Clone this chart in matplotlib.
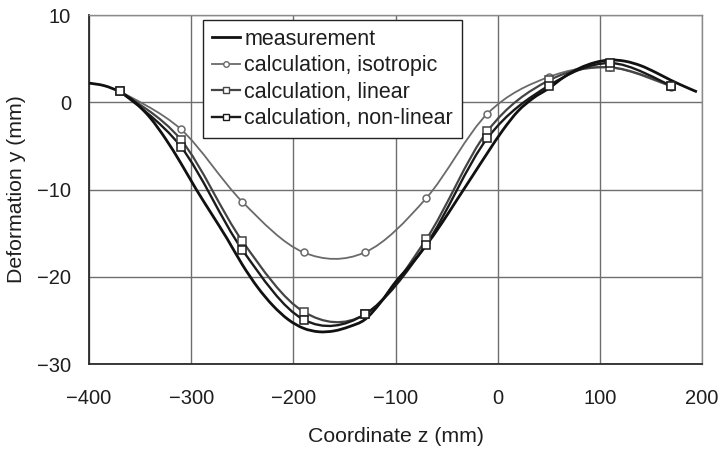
import numpy as np
import matplotlib
matplotlib.use("Agg")
import matplotlib.pyplot as plt
from matplotlib.path import Path
from matplotlib.patches import PathPatch
from matplotlib.lines import Line2D

plt.rcParams['font.family'] = ['Liberation Sans', 'DejaVu Sans']

# ---- data ----
z_meas = [-400, -385, -370, -355, -340, -325, -310, -295, -280, -265, -250, -235, -220,
          -205, -190, -175, -160, -145, -130, -115, -100, -85, -70, -55, -40, -25, -10,
          5, 20, 35, 50, 65, 80, 95, 110, 125, 140, 155, 170, 185, 195]
y_meas = [2.2, 1.9, 1.2, 0.0, -1.8, -4.2, -7.0, -10.0, -12.8, -15.6, -18.6, -21.2, -23.3,
          -24.9, -25.9, -26.3, -26.2, -25.7, -24.9, -23.0, -20.6, -18.6, -16.4, -13.9, -11.2,
          -8.5, -5.8, -3.2, -1.0, 0.5, 1.6, 2.9, 3.9, 4.55, 4.85, 4.7, 4.2, 3.4, 2.5, 1.7, 1.2]

z_calc = [-370, -310, -250, -190, -130, -70, -10, 50, 110, 170]
y_iso = [1.3, -3.1, -11.4, -17.2, -17.2, -11.0, -1.3, 2.9, 4.0, 1.8]
y_lin = [1.3, -4.3, -15.9, -24.0, -24.3, -15.7, -3.3, 2.5, 4.0, 1.9]
y_nonlin = [1.3, -5.1, -16.9, -24.9, -24.3, -16.3, -4.1, 1.9, 4.5, 1.9]

labels = ["measurement", "calculation, isotropic", "calculation, linear",
          "calculation, non-linear"]
x_ticks = [-400, -300, -200, -100, 0, 100, 200]
y_ticks = [-30, -20, -10, 0, 10]


def smooth_path(xs, ys, t=1.0):
    P = np.column_stack([xs, ys]).astype(float)
    n = len(P)
    verts = [P[0]]
    codes = [Path.MOVETO]
    for i in range(n - 1):
        p0 = P[i - 1] if i > 0 else P[i]
        p1 = P[i]
        p2 = P[i + 1]
        p3 = P[i + 2] if i + 2 < n else P[i + 1]
        c1 = p1 + (p2 - p0) / 6.0 * t
        c2 = p2 - (p3 - p1) / 6.0 * t
        verts += [c1, c2, p2]
        codes += [Path.CURVE4] * 3
    return Path(verts, codes)


def fmt(v):
    return str(v).replace('-', '\u2212')


fig = plt.figure(figsize=(7.25, 4.5), dpi=100)
ax = fig.add_axes([0.1228, 0.191, 0.8455, 0.7756])

styles = [
    dict(color='#111111', lw=2.0, marker=None, ms=0),
    dict(color='#6a6a6a', lw=1.3, marker='o', ms=5),
    dict(color='#444444', lw=1.6, marker='s', ms=6),
    dict(color='#1a1a1a', lw=1.7, marker='s', ms=6),
]

series = [(z_meas, y_meas), (z_calc, y_iso), (z_calc, y_lin), (z_calc, y_nonlin)]

for k, ((xs, ys), st) in enumerate(zip(series, styles)):
    path = smooth_path(xs, ys)
    patch = PathPatch(path, facecolor='none', edgecolor=st['color'], lw=st['lw'],
                      transform=ax.transData, zorder=3 + (1 if k == 0 else 0))
    ax.add_patch(patch)

for k in [1, 2, 3]:
    xs, ys = series[k]
    st = styles[k]
    ax.plot(xs, ys, linestyle='none', marker=st['marker'], ms=st['ms'],
            mfc='white', mec=st['color'], mew=1.1, zorder=5)

ax.set_xlim(-400, 200)
ax.set_ylim(-30, 10)
ax.set_xticks(x_ticks)
ax.set_yticks(y_ticks)
ax.set_xticklabels([fmt(v) for v in x_ticks])
ax.set_yticklabels([fmt(v) for v in y_ticks])
ax.tick_params(axis='both', length=0, labelsize=14.5, colors='#1e1e1e')
ax.tick_params(axis='x', pad=18)
ax.tick_params(axis='y', pad=13)
ax.grid(True, color='#6e6e6e', lw=1.0)
ax.set_axisbelow(True)
for s in ['top', 'right']:
    ax.spines[s].set_color('#8a8a8a')
    ax.spines[s].set_linewidth(1.0)
for s in ['left', 'bottom']:
    ax.spines[s].set_color('#2a2a2a')
    ax.spines[s].set_linewidth(1.3)

ax.set_xlabel("Coordinate z (mm)", fontsize=15.3, color='#1e1e1e', labelpad=14)
ax.set_ylabel("Deformation y (mm)", fontsize=15.3, color='#1e1e1e', labelpad=8)

handles = []
for st in styles:
    h = Line2D([], [], color=st['color'], lw=st['lw'], marker=st['marker'],
               ms=st['ms'] - 1 if st['ms'] else 0, mfc='white', mec=st['color'], mew=1.0)
    handles.append(h)
leg = ax.legend(handles, labels, loc='upper left', bbox_to_anchor=(0.186, 0.986),
                fontsize=15.5, frameon=True, fancybox=False, framealpha=1,
                edgecolor='#222222', handlelength=1.3, handletextpad=0.2,
                labelspacing=0.25, borderpad=0.42, borderaxespad=0.0)
leg.get_frame().set_linewidth(1.0)
leg.set_zorder(10)
for t in leg.get_texts():
    t.set_color('#1e1e1e')

fig.savefig("out.png", dpi=100)
